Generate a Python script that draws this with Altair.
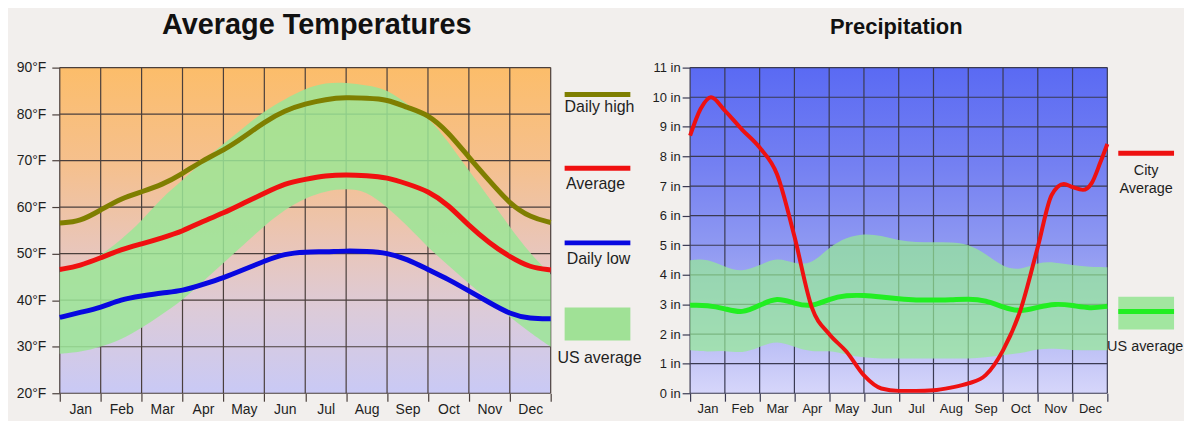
import altair as alt
import pandas as pd

# ---------------- data ----------------
MONTHS = ["Jan", "Feb", "Mar", "Apr", "May", "Jun", "Jul", "Aug", "Sep", "Oct", "Nov", "Dec"]
MONTH_EDGES = [0, 1, 2, 3, 4, 5, 6, 7, 8, 9, 10, 11, 12]
TEMP_TICKS = [20, 30, 40, 50, 60, 70, 80, 90]
PRECIP_TICKS = [0, 1, 2, 3, 4, 5, 6, 7, 8, 9, 10, 11]

# positions along the year (month index, 0 = start of Jan, 12 = end of Dec)
HALF_X = [0, 0.5, 1, 1.5, 2, 2.5, 3, 3.5, 4, 4.5, 5, 5.5, 6, 6.5, 7, 7.5, 8, 8.5,
          9, 9.5, 10, 10.5, 11, 11.5, 12]

DAILY_HIGH = [56.6, 56.9, 59.4, 61.9, 63.3, 64.8, 67.2, 70.1, 72.2, 75.1, 78.3, 80.8,
              82.2, 83.2, 83.6, 83.4, 83.2, 81.4, 80.0, 76.1, 70.7, 65.7, 60.7, 57.8, 56.7]
AVERAGE = [46.6, 47.4, 49.1, 50.9, 52.1, 53.4, 54.8, 57.0, 58.7, 60.9, 63.0, 65.1,
           66.0, 66.8, 67.0, 66.8, 66.4, 65.0, 63.5, 60.5, 56.0, 52.3, 49.3, 47.0, 46.5]
DAILY_LOW = [36.3, 37.4, 38.4, 40.2, 40.9, 41.6, 42.0, 43.4, 44.8, 46.6, 48.4, 50.0,
             50.4, 50.4, 50.6, 50.5, 50.2, 48.8, 46.6, 44.5, 42.0, 39.5, 37.0, 36.0, 36.0]
US_TEMP_HI = [46.0, 47.3, 49.6, 53.0, 57.0, 62.1, 65.7, 70.0, 73.6, 77.1, 80.7, 83.2,
              85.5, 86.8, 86.8, 86.2, 85.4, 82.0, 79.5, 74.0, 67.8, 62.0, 55.7, 50.0, 45.5]
US_TEMP_LO = [28.5, 28.8, 30.0, 31.5, 34.0, 37.0, 40.0, 44.0, 48.0, 52.0, 56.0, 59.5,
              62.0, 63.5, 64.0, 63.5, 60.0, 56.0, 51.3, 47.5, 43.5, 40.0, 36.4, 33.0, 30.0]

CITY_X = [0, 0.3, 0.6, 1.0, 1.5, 2.0, 2.5, 3.0, 3.5, 4.0, 4.5, 5.0, 5.5, 6.0, 6.5, 7.0,
          7.5, 8.0, 8.5, 9.0, 9.5, 10.0, 10.4, 10.75, 11.0, 11.3, 11.55, 11.8, 12.0]
CITY_PRECIP = [8.7, 9.6, 10.0, 9.55, 8.9, 8.3, 7.4, 5.3, 2.9, 2.0, 1.4, 0.6, 0.16, 0.08,
               0.08, 0.1, 0.19, 0.33, 0.61, 1.45, 2.8, 4.94, 6.7, 7.07, 6.96, 6.87, 7.1,
               7.8, 8.42]
US_PRECIP = [2.97, 2.98, 2.86, 2.69, 2.97, 3.25, 3.03, 2.91, 3.19, 3.31, 3.31, 3.25,
             3.19, 3.14, 3.15, 3.15, 3.19, 3.14, 2.91, 2.74, 2.91, 3.03, 2.97, 2.86, 2.94]
US_PRECIP_HI = [4.49, 4.55, 4.26, 4.09, 4.32, 4.6, 4.37, 4.35, 4.94, 5.27, 5.39, 5.33,
                5.16, 5.1, 5.1, 5.1, 5.05, 4.71, 4.26, 4.15, 4.43, 4.43, 4.32, 4.26, 4.26]
US_PRECIP_LO = [1.45, 1.39, 1.45, 1.34, 1.56, 1.79, 1.56, 1.39, 1.45, 1.3, 1.2, 1.17,
                1.17, 1.17, 1.17, 1.17, 1.17, 1.2, 1.3, 1.34, 1.51, 1.51, 1.45, 1.45, 1.45]

# ---------------- tables ----------------
temp_lines = pd.concat([
    pd.DataFrame({"x": HALF_X, "v": DAILY_HIGH, "s": "Daily high"}),
    pd.DataFrame({"x": HALF_X, "v": AVERAGE, "s": "Average"}),
    pd.DataFrame({"x": HALF_X, "v": DAILY_LOW, "s": "Daily low"}),
])
temp_band = pd.DataFrame({"x": HALF_X, "lo": US_TEMP_LO, "hi": US_TEMP_HI})
city = pd.DataFrame({"x": CITY_X, "v": CITY_PRECIP})
us_p = pd.DataFrame({"x": HALF_X, "v": US_PRECIP, "lo": US_PRECIP_LO, "hi": US_PRECIP_HI})
edges = pd.DataFrame({"e": MONTH_EDGES})
t_ticks = pd.DataFrame({"t": TEMP_TICKS})
p_ticks = pd.DataFrame({"t": PRECIP_TICKS})
bg_t = pd.DataFrame({"x0": [MONTH_EDGES[0]], "x1": [MONTH_EDGES[-1]],
                     "y0": [TEMP_TICKS[0]], "y1": [TEMP_TICKS[-1]]})
bg_p = pd.DataFrame({"x0": [MONTH_EDGES[0]], "x1": [MONTH_EDGES[-1]],
                     "y0": [PRECIP_TICKS[0]], "y1": [PRECIP_TICKS[-1]]})
one = pd.DataFrame({"k": [0]})  # single row for legend / title marks

# ---------------- style ----------------
W1, W2, H = 493, 419, 327
FONT = "Liberation Sans, Arial, sans-serif"
GRID_L = "#4a3f3c"
GRID_R = "#3a3a52"
TXT = "#1e1e1e"

month_expr = "[" + ",".join("'" + m + "'" for m in MONTHS) + ",''][datum.value]"

xs = alt.Scale(domain=[MONTH_EDGES[0], MONTH_EDGES[-1]], nice=False, zero=False)
ys_t = alt.Scale(domain=[TEMP_TICKS[0], TEMP_TICKS[-1]], nice=False, zero=False)
ys_p = alt.Scale(domain=[PRECIP_TICKS[0], PRECIP_TICKS[-1]], nice=False, zero=False)

grad_l = alt.LinearGradient(
    gradient="linear", x1=0, x2=0, y1=0, y2=1,
    stops=[alt.GradientStop(color="#fcbd6a", offset=0),
           alt.GradientStop(color="#f5c08e", offset=0.3),
           alt.GradientStop(color="#e8c6bc", offset=0.57),
           alt.GradientStop(color="#dccbd9", offset=0.75),
           alt.GradientStop(color="#c9c9f5", offset=1)])
grad_r = alt.LinearGradient(
    gradient="linear", x1=0, x2=0, y1=0, y2=1,
    stops=[alt.GradientStop(color="#5a6af3", offset=0),
           alt.GradientStop(color="#7480f2", offset=0.3),
           alt.GradientStop(color="#8f99f2", offset=0.55),
           alt.GradientStop(color="#b4b8f4", offset=0.8),
           alt.GradientStop(color="#d6d6fa", offset=1)])


def x_axis(width, fsize, grid_col):
    return alt.Axis(values=MONTH_EDGES, labelExpr=month_expr, labelOffset=width / 24,
                    tickSize=8, tickColor=grid_col, tickWidth=1.2, domain=False,
                    grid=False, title=None, labelFont=FONT, labelFontSize=fsize,
                    labelColor=TXT, labelPadding=1, labelAngle=0, labelFlush=False,
                    labelOverlap=False, labelBound=False)


def y_axis(ticks, expr, fsize, grid_col, pad):
    return alt.Axis(values=ticks, labelExpr=expr, tickSize=8, tickColor=grid_col,
                    tickWidth=1.2, domain=False, grid=False, title=None,
                    labelFont=FONT, labelFontSize=fsize, labelColor=TXT,
                    labelPadding=pad, labelFlush=False, labelOverlap=False)


def legend_rule(col, x1, x2, y):
    return alt.Chart(one).mark_rule(color=col, strokeWidth=5).encode(
        x=alt.value(x1), x2=alt.value(x2), y=alt.value(y))


def legend_text(txt, x, y, size):
    return alt.Chart(one).mark_text(
        text=txt, font=FONT, fontSize=size, color=TXT, align="center",
        baseline="middle").encode(x=alt.value(x), y=alt.value(y))


# ================= left: temperatures =================
XA_L = x_axis(W1, 14, GRID_L)
YA_L = y_axis(TEMP_TICKS, "datum.value + '°F'", 14, GRID_L, 6)


def XL(f):
    return alt.X(f, scale=xs, axis=XA_L)


def YL(f):
    return alt.Y(f, scale=ys_t, axis=YA_L)


bg_left = alt.Chart(bg_t).mark_rect(fill=grad_l).encode(
    x=XL("x0:Q"), x2="x1:Q", y=YL("y0:Q"), y2="y1:Q")
vgrid_l = alt.Chart(edges).mark_rule(color=GRID_L, strokeWidth=1.2).encode(
    x=XL("e:Q"), y=alt.datum(TEMP_TICKS[0], scale=ys_t, axis=YA_L),
    y2=alt.datum(TEMP_TICKS[-1]))
hgrid_l = alt.Chart(t_ticks).mark_rule(color=GRID_L, strokeWidth=1.2).encode(
    y=YL("t:Q"), x=alt.datum(MONTH_EDGES[0], scale=xs, axis=XA_L),
    x2=alt.datum(MONTH_EDGES[-1]))
band_l = alt.Chart(temp_band).mark_area(
    interpolate="basis", color="#9be696", opacity=0.85).encode(
    x=XL("x:Q"), y=YL("lo:Q"), y2="hi:Q")
lines_l = alt.Chart(temp_lines).mark_line(
    interpolate="basis", strokeWidth=5, strokeCap="butt").encode(
    x=XL("x:Q"), y=YL("v:Q"),
    color=alt.Color("s:N", scale=alt.Scale(domain=["Daily high", "Average", "Daily low"],
                                           range=["#7f7f00", "#f01010", "#0808e0"]),
                    legend=None),
    detail="s:N")

leg_l = []
for col, ly, lbl, ty, tx in [("#7f7f00", 27, "Daily high", 40, 542),
                              ("#f01010", 101, "Average", 117, 538),
                              ("#0808e0", 176, "Daily low", 192, 541)]:
    leg_l.append(legend_rule(col, 507, 573, ly))
    leg_l.append(legend_text(lbl, tx, ty, 16))
leg_l.append(alt.Chart(one).mark_rect(color="#a0e196").encode(
    x=alt.value(507), x2=alt.value(573), y=alt.value(241), y2=alt.value(274)))
leg_l.append(legend_text("US average", 542, 292, 16))
title_l = alt.Chart(one).mark_text(
    text="Average Temperatures", font=FONT, fontSize=29, fontWeight="bold",
    color="#111111", align="center", baseline="alphabetic").encode(
    x=alt.value(258), y=alt.value(-34))

left = alt.layer(bg_left, vgrid_l, hgrid_l, band_l, lines_l, *leg_l, title_l).properties(
    width=W1, height=H)

# ================= right: precipitation =================
XA_R = x_axis(W2, 13, GRID_R)
YA_R = y_axis(PRECIP_TICKS, "datum.value + ' in'", 13, GRID_R, 2)


def XR(f):
    return alt.X(f, scale=xs, axis=XA_R)


def YR(f):
    return alt.Y(f, scale=ys_p, axis=YA_R)


bg_right = alt.Chart(bg_p).mark_rect(fill=grad_r).encode(
    x=XR("x0:Q"), x2="x1:Q", y=YR("y0:Q"), y2="y1:Q")
vgrid_r = alt.Chart(edges).mark_rule(color=GRID_R, strokeWidth=1.2).encode(
    x=XR("e:Q"), y=alt.datum(PRECIP_TICKS[0], scale=ys_p, axis=YA_R),
    y2=alt.datum(PRECIP_TICKS[-1]))
hgrid_r = alt.Chart(p_ticks).mark_rule(color=GRID_R, strokeWidth=1.2).encode(
    y=YR("t:Q"), x=alt.datum(MONTH_EDGES[0], scale=xs, axis=XA_R),
    x2=alt.datum(MONTH_EDGES[-1]))
band_r = alt.Chart(us_p).mark_area(
    interpolate="basis", color="#96eb96", opacity=0.7).encode(
    x=XR("x:Q"), y=YR("lo:Q"), y2="hi:Q")
us_line = alt.Chart(us_p).mark_line(
    interpolate="basis", strokeWidth=5, color="#22ee22").encode(
    x=XR("x:Q"), y=YR("v:Q"))
city_line = alt.Chart(city).mark_line(
    interpolate="monotone", strokeWidth=4, color="#ee1111").encode(
    x=XR("x:Q"), y=YR("v:Q"))

leg_r = [
    legend_rule("#ee1111", 430, 486, 86),
    legend_text("City", 458, 104, 14.5),
    legend_text("Average", 458, 122, 14.5),
    alt.Chart(one).mark_rect(color="#a2e6a0").encode(
        x=alt.value(430), x2=alt.value(486), y=alt.value(230), y2=alt.value(263)),
    legend_rule("#22ee22", 430, 486, 245),
    legend_text("US average", 457, 281, 14.5),
]
title_r = alt.Chart(one).mark_text(
    text="Precipitation", font=FONT, fontSize=22, fontWeight="bold",
    color="#111111", align="center", baseline="alphabetic").encode(
    x=alt.value(207), y=alt.value(-34))

right = alt.layer(bg_right, vgrid_r, hgrid_r, band_r, us_line, city_line, *leg_r,
                  title_r).properties(width=W2, height=H)

chart = alt.hconcat(left, right, spacing=140, bounds="flush").configure(
    background="#f2efed",
    padding={"left": 8, "top": 2, "right": 0, "bottom": 4},
).configure_view(stroke=None)

chart.save("out.html", embed_options={"renderer": "svg", "actions": False})
